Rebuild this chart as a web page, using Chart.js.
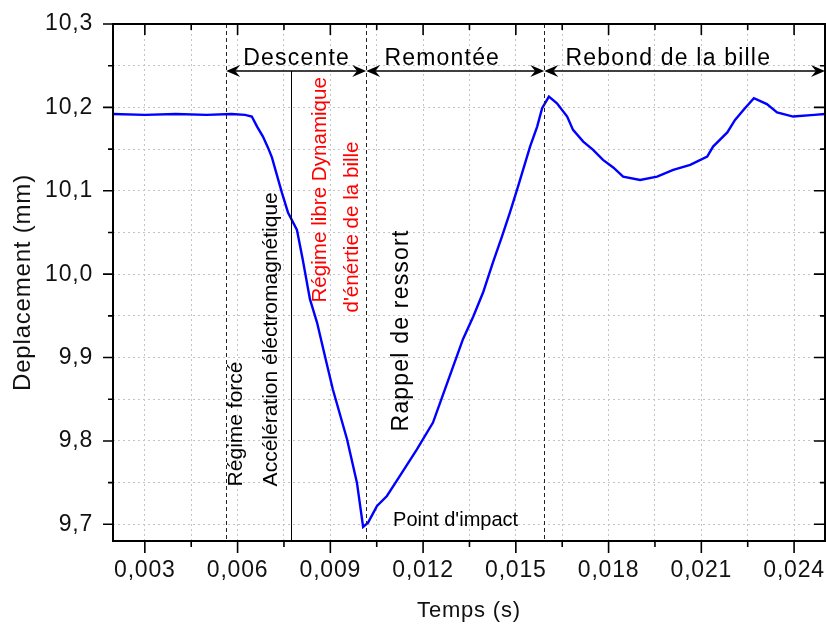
<!DOCTYPE html>
<html>
<head>
<meta charset="utf-8">
<script src="https://cdn.jsdelivr.net/npm/chart.js@4.4.0/dist/chart.umd.min.js"></script>
<style>
  body { margin: 0; background: #fff; }
  canvas { display: block; }
</style>
</head>
<body>
<canvas id="chart" width="826" height="626"></canvas>
<script>
// ======================
// MEASURED SIGNAL
// ======================
const timeS = [
  0.00197, 0.0030, 0.0040, 0.0050, 0.0058, 0.00624, 0.00646, 0.00663, 0.00682, 0.00698,
  0.00711, 0.00743, 0.00763, 0.00792, 0.00811, 0.00834, 0.00857, 0.00883, 0.00908, 0.00954,
  0.00986, 0.01006, 0.01022, 0.01051, 0.01083, 0.01125, 0.01180, 0.01232, 0.01261, 0.01329,
  0.01362, 0.01394, 0.01426, 0.01455, 0.01481, 0.01507, 0.01546, 0.01569, 0.01585, 0.01607,
  0.01633, 0.01666, 0.01685, 0.01718, 0.01750, 0.01782, 0.01815, 0.01847, 0.01902, 0.01957,
  0.02009, 0.02064, 0.02119, 0.02138, 0.02184, 0.02209, 0.02241, 0.02270, 0.02312, 0.02345,
  0.02397, 0.02465, 0.02500
];
const deplacement = [
  10.192, 10.191, 10.192, 10.191, 10.192, 10.191, 10.189, 10.177, 10.165, 10.152,
  10.140, 10.098, 10.074, 10.053, 10.017, 9.970, 9.942, 9.901, 9.862, 9.802,
  9.750, 9.697, 9.702, 9.722, 9.734, 9.758, 9.790, 9.822, 9.852, 9.922,
  9.949, 9.978, 10.014, 10.045, 10.074, 10.105, 10.153, 10.177, 10.199, 10.213,
  10.205, 10.189, 10.173, 10.159, 10.149, 10.137, 10.128, 10.117, 10.113, 10.117,
  10.125, 10.131, 10.141, 10.153, 10.170, 10.185, 10.199, 10.211, 10.204, 10.194,
  10.189, 10.191, 10.192
];

// ======================
// AXIS TICKS
// ======================
const xMajorTicks = [0.003, 0.006, 0.009, 0.012, 0.015, 0.018, 0.021, 0.024];
const xMinorTicks = [0.0045, 0.0075, 0.0105, 0.0135, 0.0165, 0.0195, 0.0225];
const yMajorTicks = [9.7, 9.8, 9.9, 10.0, 10.1, 10.2, 10.3];
const yMinorTicks = [9.75, 9.85, 9.95, 10.05, 10.15, 10.25];

// phase boundaries (s)
const phaseLimits = [0.00563, 0.01016, 0.01592, 0.025];
const forcedEnd = 0.00773;
const phaseNames = ["Descente", "Remontée", "Rebond de la bille"];

const FONT = '"Liberation Sans", Arial, sans-serif';

// ======================
// ANNOTATION LAYOUT
// ======================
const arrowLevel = 10.2437;
const phaseText = [
  { x: 0.00791, y: 10.2509 },
  { x: 0.01262, y: 10.2509 },
  { x: 0.01993, y: 10.2509 }
];
const notes = [
  { text: "Régime forcé", x: 0.00597, y: 9.7455, size: 21, rotate: true },
  { text: "Accélération éléctromagnétique", x: 0.00710, y: 9.7455, size: 21, rotate: true },
  { text: "Régime libre Dynamique", x: 0.00866, y: 9.966, size: 20.6, rotate: true, color: "#ff0000" },
  { text: "d'énértie de la bille", x: 0.00970, y: 9.954, size: 20.6, rotate: true, color: "#ff0000" },
  { text: "Rappel de ressort", x: 0.01131, y: 9.8114, size: 23, rotate: true, spacing: 1.2 },
  { text: "Point d'impact", x: 0.01103, y: 9.6976, size: 20, rotate: false }
];

function drawText(ctx, n, px, py) {
  ctx.save();
  ctx.font = n.size + "px " + FONT;
  ctx.fillStyle = n.color || "#000";
  ctx.letterSpacing = (n.spacing || 0) + "px";
  ctx.translate(px, py);
  if (n.rotate) {
    ctx.rotate(-Math.PI / 2);
    ctx.textAlign = "left";
    ctx.textBaseline = "middle";
  } else {
    ctx.textAlign = n.align || "left";
    ctx.textBaseline = "alphabetic";
  }
  ctx.fillText(n.text, 0, 0);
  ctx.restore();
}

function arrowHead(ctx, tipX, tipY, dir) {
  const L = 14, h = 6;
  ctx.beginPath();
  ctx.moveTo(tipX, tipY);
  ctx.lineTo(tipX + dir * L, tipY - h);
  ctx.lineTo(tipX + dir * L * 0.65, tipY);
  ctx.lineTo(tipX + dir * L, tipY + h);
  ctx.closePath();
  ctx.fill();
}

const spacingPlugin = {
  id: "spacing",
  beforeLayout(chart) { chart.ctx.letterSpacing = "0.8px"; },
  beforeDraw(chart) { chart.ctx.letterSpacing = "0.8px"; }
};

const annotations = {
  id: "annotations",
  afterDatasetsDraw(chart) {
    const { ctx, chartArea: a, scales: { x, y } } = chart;
    const ay = y.getPixelForValue(arrowLevel);
    ctx.save();

    // dashed phase limits
    ctx.strokeStyle = "#222";
    ctx.lineWidth = 1;
    ctx.setLineDash([4, 3]);
    phaseLimits.slice(0, 3).forEach(t => {
      const px = Math.round(x.getPixelForValue(t)) + 0.5;
      ctx.beginPath();
      ctx.moveTo(px, a.top);
      ctx.lineTo(px, a.bottom);
      ctx.stroke();
    });
    ctx.setLineDash([]);

    // end of forced regime
    const fx = Math.round(x.getPixelForValue(forcedEnd)) + 0.5;
    ctx.strokeStyle = "#000";
    ctx.beginPath();
    ctx.moveTo(fx, ay);
    ctx.lineTo(fx, a.bottom);
    ctx.stroke();

    // double arrows
    ctx.fillStyle = "#000";
    ctx.lineWidth = 1.5;
    for (let i = 0; i < 3; i++) {
      const x1 = x.getPixelForValue(phaseLimits[i]);
      const x2 = Math.min(x.getPixelForValue(phaseLimits[i + 1]), a.right);
      ctx.beginPath();
      ctx.moveTo(x1 + 4, ay);
      ctx.lineTo(x2 - 4, ay);
      ctx.stroke();
      arrowHead(ctx, x1, ay, 1);
      arrowHead(ctx, x2, ay, -1);
      drawText(ctx, { text: phaseNames[i], size: 23, spacing: 1.2, align: "center" },
        x.getPixelForValue(phaseText[i].x), y.getPixelForValue(phaseText[i].y));
    }

    notes.forEach(n => drawText(ctx, n, x.getPixelForValue(n.x), y.getPixelForValue(n.y)));
    ctx.restore();
  }
};

const frameAndTicks = {
  id: "frameAndTicks",
  afterDraw(chart) {
    const { ctx, chartArea: a, scales: { x, y } } = chart;
    ctx.save();
    ctx.strokeStyle = "#000";
    ctx.lineWidth = 2;
    ctx.strokeRect(a.left, a.top, a.right - a.left, a.bottom - a.top);

    ctx.lineWidth = 1.6;
    ctx.beginPath();
    x.ticks.forEach(t => {
      const px = x.getPixelForValue(t.value);
      const major = xMajorTicks.includes(t.value);
      ctx.moveTo(px, a.bottom);
      ctx.lineTo(px, a.bottom + (major ? 12 : 6));
      ctx.moveTo(px, a.top);
      ctx.lineTo(px, a.top + (major ? 11 : 6));
    });
    y.ticks.forEach(t => {
      const py = y.getPixelForValue(t.value);
      const major = yMajorTicks.includes(t.value);
      ctx.moveTo(a.left, py);
      ctx.lineTo(a.left - (major ? 10 : 5), py);
      ctx.moveTo(a.right, py);
      ctx.lineTo(a.right - (major ? 11 : 5), py);
    });
    ctx.stroke();
    ctx.restore();
  }
};

function tickList(major, minor) {
  return [...major, ...minor].sort((p, q) => p - q).map(v => ({ value: v }));
}

new Chart(document.getElementById("chart"), {
  type: "scatter",
  data: {
    datasets: [{
      data: timeS.map((t, i) => ({ x: t, y: deplacement[i] })),
      showLine: true,
      borderColor: "#0000ff",
      backgroundColor: "#0000ff",
      borderWidth: 2.4,
      pointRadius: 0,
      tension: 0
    }]
  },
  options: {
    responsive: false,
    animation: false,
    layout: { padding: { top: 24, right: 1, left: 0, bottom: 0 } },
    plugins: {
      legend: { display: false },
      tooltip: { enabled: false }
    },
    scales: {
      x: {
        type: "linear",
        min: 0.00197,
        max: 0.025,
        afterBuildTicks: s => { s.ticks = tickList(xMajorTicks, xMinorTicks); },
        afterFit: s => { s.height = 85; s.paddingLeft = 0; s.paddingRight = 0; },
        ticks: {
          autoSkip: false,
          maxRotation: 0,
          padding: 16,
          color: "#111",
          font: { family: FONT, size: 23 },
          callback: v => xMajorTicks.includes(v) ? v.toFixed(3).replace(".", ",") : ""
        },
        grid: { color: "#c4c4c4", lineWidth: 1, drawTicks: false },
        border: { display: false, dash: [2, 3] },
        title: {
          display: true,
          text: "Temps (s)",
          color: "#111",
          font: { family: FONT, size: 22 },
          padding: { top: 0, bottom: 2 }
        }
      },
      y: {
        type: "linear",
        min: 9.68,
        max: 10.3,
        afterBuildTicks: s => { s.ticks = tickList(yMajorTicks, yMinorTicks); },
        afterFit: s => { s.width = 113; s.paddingTop = 0; s.paddingBottom = 0; },
        ticks: {
          autoSkip: false,
          padding: 20,
          color: "#111",
          font: { family: FONT, size: 23 },
          callback: v => yMajorTicks.includes(v) ? v.toFixed(1).replace(".", ",") : ""
        },
        grid: { color: "#c4c4c4", lineWidth: 1, drawTicks: false },
        border: { display: false, dash: [2, 3] },
        title: {
          display: true,
          text: "Deplacement (mm)",
          color: "#111",
          font: { family: FONT, size: 24 },
          padding: { top: 9, bottom: 0 }
        }
      }
    }
  },
  plugins: [spacingPlugin, annotations, frameAndTicks]
});
</script>
</body>
</html>
